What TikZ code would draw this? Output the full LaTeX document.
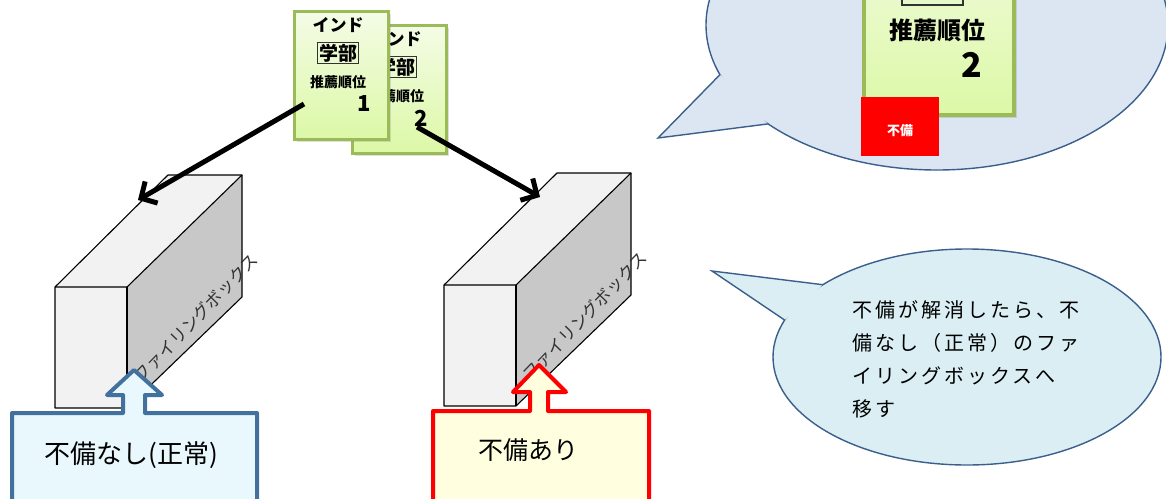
\documentclass[tikz,border=0pt]{standalone}
\usepackage{fontspec}
\setmainfont{Noto Sans CJK JP}
\newfontfamily\jpwide{Noto Sans CJK JP}[LetterSpace=15]
\usetikzlibrary{arrows.meta,shadows}

\definecolor{cardedge}{HTML}{9BBB59}
\definecolor{cardtop}{HTML}{F4FCE6}
\definecolor{cardbot}{HTML}{DCF8A6}
\definecolor{boxlight}{HTML}{F2F2F2}
\definecolor{boxside}{HTML}{C8C8C8}
\definecolor{boxtext}{HTML}{333333}
\definecolor{calloutedge}{HTML}{3B5F8D}
\definecolor{calloutA}{HTML}{DCE6F2}
\definecolor{calloutB}{HTML}{DAEEF3}
\definecolor{okedge}{HTML}{41719C}
\definecolor{okfill}{HTML}{E8F8FD}
\definecolor{ngedge}{HTML}{FF0000}
\definecolor{ngfill}{HTML}{FFFFE0}

\newcommand{\fs}[1]{\fontsize{#1}{#1}\selectfont}

\tikzset{
  card/.style={draw=cardedge, line width=2.8pt, top color=cardtop, bottom color=cardbot,
    drop shadow={opacity=0.25, shadow xshift=2.5pt, shadow yshift=-2.5pt},
    minimum width=94pt, minimum height=128pt, anchor=north west, inner sep=0pt},
  cardtxt/.style={font=\bfseries\fs{#1}, inner sep=0pt, text=black},
  framed/.style={draw=black!80, line width=1.2pt, inner sep=1.5pt},
  boxline/.style={draw=black, line width=1.1pt, line join=round},
  flow/.style={line width=5pt, -{Straight Barb[length=12pt, width=25pt]}},
  calloutline/.style={draw=calloutedge, line width=1.4pt, line join=miter},
  labelshape/.style={line width=4pt, line join=round},
  pics/filebox/.style={code={
    \fill[boxlight] (0,0) -- (113,-112) -- (187,-112) -- (72,0) -- cycle;
    \fill[boxlight] (0,0) rectangle (72,121);
    \fill[boxside] (72,0) -- (187,-112) -- (187,10) -- (72,121) -- cycle;
    \draw[boxline] (0,121) -- (0,0) -- (113,-112) -- (187,-112) -- (187,10) -- (72,121) -- cycle;
    \draw[boxline] (0,0) -- (72,0) -- (187,-112);
    \draw[boxline] (72,0) -- (72,121);
    \node[rotate=46, text=boxtext, font=\fs{17}, inner sep=0pt] (-name) at (141,31) {ファイリングボックス};
  }}
}

\begin{document}
\begin{tikzpicture}[x=1pt,y=-1pt]
\useasboundingbox (0,0) rectangle (1166,498);
\clip (0,0) rectangle (1166,498);
\fill[white] (0,0) rectangle (1166,498);

% ---- speech bubble, upper right, with enlarged card ----
\coordinate (bubA) at (937,25);
\fill[calloutA] (bubA) ellipse [x radius=231pt, y radius=145pt];
\draw[calloutline] (bubA) ellipse [x radius=231pt, y radius=145pt];
\coordinate (bubAbase1) at (720,74.6);
\coordinate (bubAtip) at (658,138);
\coordinate (bubAbase2) at (768,123.9);
\fill[calloutA] (bubAbase1) -- (bubAtip) -- (bubAbase2) -- cycle;
\draw[calloutline] (bubAbase1) -- (bubAtip) -- (bubAbase2);

\node[card, line width=4pt, minimum width=150pt, minimum height=205pt] (bigcard) at (862,-92) {};
\node[cardtxt=22, framed, line width=1.6pt, minimum width=61pt, minimum height=36pt] (bigdept) at (932.5,-13) {学部};
\node[cardtxt=24] (bigrank) at (937,30) {推薦順位};
\node[cardtxt=34] (bignum) at (972,65) {2};
\node[fill=red, minimum width=78pt, minimum height=59pt, inner sep=0pt, anchor=north west] (flag) at (861,97) {};
\node[cardtxt=13, text=white] (flagtxt) at (900,131) {不備};

% ---- stacked cards ----
\node[card] (card2) at (351,24) {};
\node[cardtxt=17] (c2a) at (396,39) {インド};
\node[cardtxt=19, framed] (c2b) at (396,67) {学部};
\node[cardtxt=14] (c2c) at (396,96) {推薦順位};
\node[cardtxt=22] (c2d) at (421,118) {2};

\node[card] (card1) at (293,10) {};
\node[cardtxt=17] (c1a) at (338,25) {インド};
\node[cardtxt=19, framed] (c1b) at (338,53) {学部};
\node[cardtxt=14] (c1c) at (338,82) {推薦順位};
\node[cardtxt=22] (c1d) at (364,104) {1};

% ---- filing boxes ----
\pic (box1) at (55,287) {filebox};
\pic (box2) at (444,285) {filebox};

% ---- flow arrows from the cards to the boxes ----
\coordinate (from1) at (304,104);
\coordinate (to1) at (138,200);
\coordinate (from2) at (417,127);
\coordinate (to2) at (540,197);
\draw[flow] (from1) -- (to1);
\draw[flow] (from2) -- (to2);

% ---- labels with upward arrows ----
\filldraw[labelshape, draw=okedge, fill=okfill]
  (12,413) -- (123,413) -- (123,395) -- (107,395) -- (134,370) -- (162,395)
  -- (145,395) -- (145,413) -- (257,413) -- (257,515) -- (12,515) -- cycle;
\node[font=\fs{26}, inner sep=0pt] (oklabel) at (131,455) {不備なし(正常)};

\filldraw[labelshape, draw=ngedge, fill=ngfill]
  (433,411) -- (530,411) -- (530,392) -- (513,392) -- (539,365) -- (566,392)
  -- (548,392) -- (548,411) -- (649,411) -- (649,515) -- (433,515) -- cycle;
\node[font=\fs{25}, inner sep=0pt] (nglabel) at (528,450) {不備あり};

% ---- speech bubble, lower right ----
\coordinate (bubB) at (967,357);
\fill[calloutB] (bubB) ellipse [x radius=194pt, y radius=108pt];
\draw[calloutline] (bubB) ellipse [x radius=194pt, y radius=108pt];
\coordinate (bubBbase1) at (822.8,284.7);
\coordinate (bubBtip) at (712,271);
\coordinate (bubBbase2) at (784.7,320.1);
\fill[calloutB] (bubBbase1) -- (bubBtip) -- (bubBbase2) -- cycle;
\draw[calloutline] (bubBbase1) -- (bubBtip) -- (bubBbase2);

\node[font=\jpwide\fs{20}, anchor=west, inner sep=0pt] (note1) at (852,310) {不備が解消したら、不};
\node[font=\jpwide\fs{20}, anchor=west, inner sep=0pt] (note2) at (852,343) {備なし（正常）のファ};
\node[font=\jpwide\fs{20}, anchor=west, inner sep=0pt] (note3) at (852,376) {イリングボックスへ};
\node[font=\jpwide\fs{20}, anchor=west, inner sep=0pt] (note4) at (852,409) {移す};
\end{tikzpicture}
\end{document}
